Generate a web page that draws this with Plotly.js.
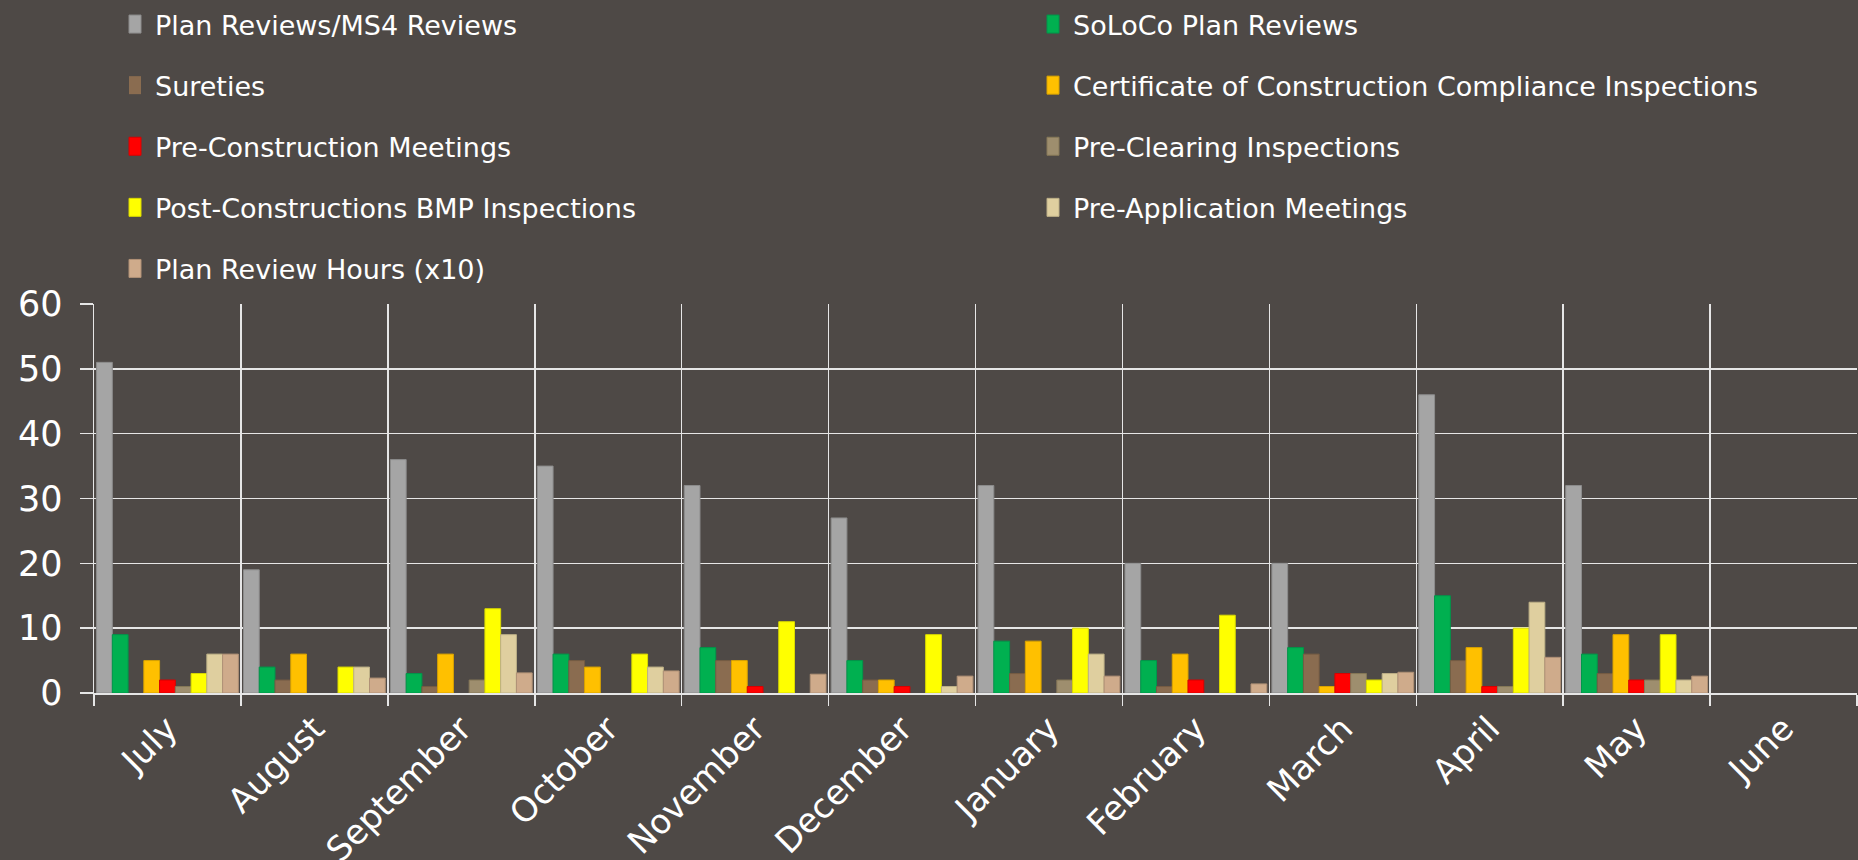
<!DOCTYPE html>
<html>
<head>
<meta charset="utf-8">
<script src="https://cdn.plot.ly/plotly-3.0.1.min.js"></script>
<style>
  html, body { margin: 0; padding: 0; background: #4e4946; }
  #chart { width: 1858px; height: 860px; }
</style>
</head>
<body>
<div id="chart"></div>
<script>
// ---- Data ----
const months = ["July", "August", "September", "October", "November", "December",
                "January", "February", "March", "April", "May", "June"];

const planReviews          = [51, 19, 36, 35, 32, 27, 32, 20, 20, 46, 32, null];
const solocoPlanReviews    = [9, 4, 3, 6, 7, 5, 8, 5, 7, 15, 6, null];
const sureties             = [0, 2, 1, 5, 5, 2, 3, 1, 6, 5, 3, null];
const cccInspections       = [5, 6, 6, 4, 5, 2, 8, 6, 1, 7, 9, null];
const preConstruction      = [2, 0, 0, 0, 1, 1, 0, 2, 3, 1, 2, null];
const preClearing          = [1, 0, 2, 0, 0, 0, 2, 0, 3, 1, 2, null];
const postConstructionBMP  = [3, 4, 13, 6, 11, 9, 10, 12, 2, 10, 9, null];
const preApplication       = [6, 4, 9, 4, 0, 1, 6, 0, 3, 14, 2, null];
const planReviewHours      = [6.0, 2.3, 3.1, 3.4, 2.9, 2.6, 2.6, 1.4, 3.2, 5.5, 2.6, null];

const seriesNames = [
  "Plan Reviews/MS4 Reviews",
  "SoLoCo Plan Reviews",
  "Sureties",
  "Certificate of Construction Compliance Inspections",
  "Pre-Construction Meetings",
  "Pre-Clearing Inspections",
  "Post-Constructions BMP Inspections",
  "Pre-Application Meetings",
  "Plan Review Hours (x10)"
];
const seriesValues = [planReviews, solocoPlanReviews, sureties, cccInspections,
  preConstruction, preClearing, postConstructionBMP, preApplication, planReviewHours];

// ---- Styles ----
const seriesColors = ["#a5a5a5", "#00b050", "#8a6c50", "#ffc000", "#ff0000",
                      "#9e8e6e", "#ffff00", "#dfcf9f", "#cfab8b"];
const lineColors   = ["#8c8c8c", "#00964a", "#755c44", "#d9a300", "#d90000",
                      "#867858", "#d9d900", "#bdb087", "#b09176"];

const FONT = "DejaVu Sans, Verdana, sans-serif";
const TXT = "#ffffff";
const GRID = "#e6e6e6";

const traces = seriesNames.map((name, i) => ({
  type: "bar",
  name: name,
  x: months,
  y: seriesValues[i],
  marker: {
    color: seriesColors[i],
    line: { color: lineColors[i], width: seriesValues[i].map(v => (v ? 1 : 0)) }
  },
  legend: (i % 2 === 0) ? "legend" : "legend2",
  legendgroup: "g" + i,
  hoverinfo: "x+y+name"
}));

const legendCommon = {
  orientation: "v",
  xref: "container", yref: "container",
  yanchor: "top", xanchor: "left",
  bgcolor: "rgba(0,0,0,0)",
  borderwidth: 0,
  font: { family: FONT, size: 27, color: TXT },
  tracegroupgap: 23,
  traceorder: "grouped"
};

const layout = {
  width: 1858,
  height: 860,
  paper_bgcolor: "#4e4946",
  plot_bgcolor: "rgba(0,0,0,0)",
  margin: { l: 94, r: 1, t: 304, b: 167, pad: 0, autoexpand: false },
  barmode: "group",
  bargap: 0.035,
  bargroupgap: 0,
  font: { family: FONT, color: TXT },
  showlegend: true,
  legend: Object.assign({}, legendCommon, { x: 115 / 1858, y: 1.005 }),
  legend2: Object.assign({}, legendCommon, { x: 1033 / 1858, y: 1.005 }),
  xaxis: {
    type: "category",
    tickmode: "linear",
    dtick: 1,
    tickson: "boundaries",
    ticks: "outside",
    ticklen: 11,
    tickwidth: 1.5,
    tickcolor: GRID,
    showgrid: true,
    gridcolor: GRID,
    gridwidth: 1.5,
    showline: true,
    linecolor: GRID,
    linewidth: 2,
    tickangle: -45,
    automargin: false,
    tickfont: { family: FONT, size: 34, color: TXT },
    zeroline: false,
    fixedrange: true
  },
  yaxis: {
    range: [0, 60],
    tickvals: [0, 10, 20, 30, 40, 50, 60],
    ticks: "outside",
    ticklen: 13,
    tickwidth: 1.5,
    tickcolor: GRID,
    showgrid: true,
    gridcolor: GRID,
    gridwidth: 1.5,
    showline: true,
    linecolor: GRID,
    linewidth: 1.5,
    zeroline: false,
    automargin: false,
    ticklabelstandoff: 10,
    tickfont: { family: FONT, size: 35, color: TXT },
    fixedrange: true
  }
};

const gd = document.getElementById("chart");
function tallSwatches() {
  gd.querySelectorAll(".legendpoints path.legendundefined, .legendpoints path").forEach(p => {
    p.setAttribute("d", "M6,9H-6V-9H6Z");
  });
}
Plotly.newPlot(gd, traces, layout, { displayModeBar: false, staticPlot: true }).then(tallSwatches);
gd.on && gd.on("plotly_afterplot", tallSwatches);
</script>
</body>
</html>
